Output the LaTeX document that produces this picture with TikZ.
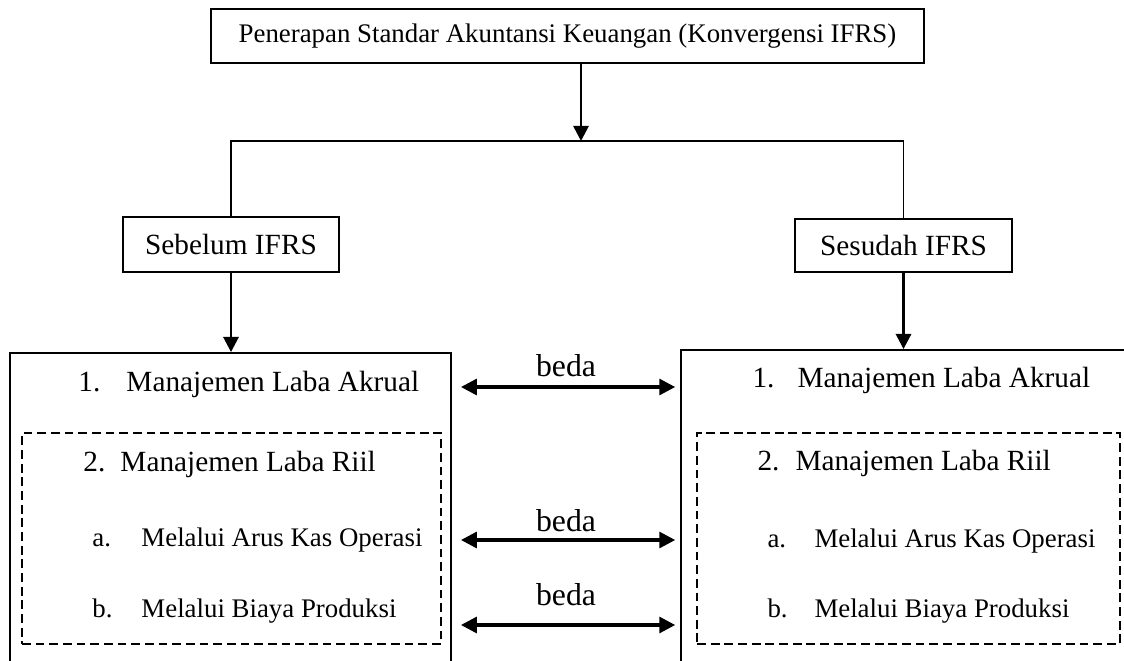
\documentclass[tikz,border=0pt]{standalone}
\usepackage{fontspec}
\setmainfont{Liberation Serif}
\usetikzlibrary{arrows.meta,positioning,calc}

\begin{document}
\begin{tikzpicture}[
  x=0.0144cm, y=-0.0144cm,
  font=\fontsize{12pt}{14pt}\selectfont,
  kotak/.style={draw, line width=0.8pt, inner sep=0pt, align=center},
  bingkai/.style={draw, line width=0.8pt, inner sep=0pt},
  putus/.style={draw, line width=1.1pt, dash pattern=on 3.6pt off 2pt, inner sep=0pt},
  teks/.style={anchor=base west, inner sep=0pt},
  sub/.style={teks, font=\fontsize{11pt}{13pt}\selectfont},
  lbl/.style={inner sep=0pt, anchor=south, font=\fontsize{13pt}{15pt}\selectfont},
  ar/.style={-{Triangle[length=6.2pt, width=6.2pt]}, line width=1.1pt},
  dua/.style={{Triangle[length=6.5pt, width=6.5pt]}-{Triangle[length=6.5pt, width=6.5pt]},
              line width=1.3pt, shorten <=0.13cm, shorten >=0.07cm},
  garis/.style={line width=0.8pt}
]
\useasboundingbox (0,0) rectangle (1124,660);
\clip (0,0) rectangle (1124,660);

% --- top box and the two branches ---------------------------------------
\node[kotak, minimum width=10.267cm, minimum height=0.778cm,
      font=\fontsize{11pt}{13pt}\selectfont] (atas) at (567.5,36)
     {Penerapan Standar Akuntansi Keuangan (Konvergensi IFRS)};
\node[kotak, minimum width=3.110cm, minimum height=0.792cm] (sebelum) at (231,244.5) {Sebelum IFRS};
\node[kotak, minimum width=3.125cm, minimum height=0.763cm] (sesudah) at (903.5,245.5) {Sesudah IFRS};

\coordinate (cabang) at (581,141);
\draw[ar] (atas.south -| cabang) -- (cabang);
\draw[garis] (sebelum.north) -- (sebelum.north |- cabang) -- (sesudah.north |- cabang) -- (sesudah.north);

% --- two large boxes (open below the frame) ------------------------------
\node[bingkai, minimum width=6.350cm, minimum height=4.709cm] (kiri) at (230.5,516.5) {};
\node[bingkai, minimum width=6.610cm, minimum height=4.752cm] (kanan) at (910.5,515) {};
\node[putus, minimum width=6.034cm, minimum height=3.038cm] (riilkiri) at (231.5,538.5) {};
\node[putus, minimum width=6.091cm, minimum height=3.038cm] (riilkanan) at (908.5,538.5) {};

\draw[ar] (sebelum.south) -- (sebelum.south |- kiri.north);
\draw[ar] (sesudah.south) -- (sesudah.south |- kanan.north);

% --- left list ---------------------------------------------------------
\node[teks] (kn1) at (78,391) {1.};
\node[teks] (kt1) at (126,391) {Manajemen Laba Akrual};
\node[teks] (kn2) at (83,471) {2.};
\node[teks] (kt2) at (120,471) {Manajemen Laba Riil};
\node[sub] (kna) at (92,546) {a.};
\node[sub] (kta) at (141,546) {Melalui Arus Kas Operasi};
\node[sub] (knb) at (92,617) {b.};
\node[sub] (ktb) at (141,617) {Melalui Biaya Produksi};

% --- right list --------------------------------------------------------
\node[teks] (nn1) at (752,387) {1.};
\node[teks] (nt1) at (797,387) {Manajemen Laba Akrual};
\node[teks] (nn2) at (757,470) {2.};
\node[teks] (nt2) at (795,470) {Manajemen Laba Riil};
\node[sub] (nna) at (767,547) {a.};
\node[sub] (nta) at (814,547) {Melalui Arus Kas Operasi};
\node[sub] (nnb) at (767,617) {b.};
\node[sub] (ntb) at (814,617) {Melalui Biaya Produksi};

% --- comparison arrows -------------------------------------------------
\coordinate (b1) at (0,387);
\coordinate (b2) at (0,540);
\coordinate (b3) at (0,625);
\foreach \b/\sp in {b1/0.13cm, b2/0.10cm, b3/0.26cm}{%
  \draw[dua] (kiri.east |- \b) -- node[lbl, above=\sp] {beda} (kanan.west |- \b);
}

\end{tikzpicture}
\end{document}
